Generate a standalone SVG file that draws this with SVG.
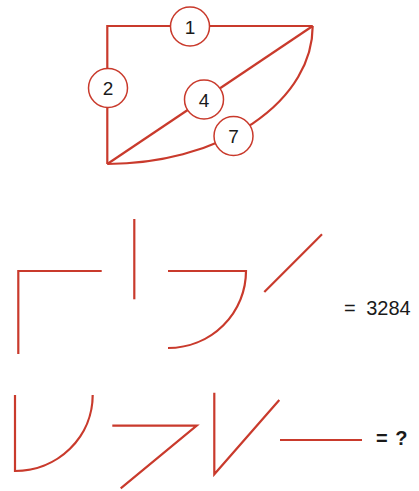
<svg xmlns="http://www.w3.org/2000/svg" width="419" height="491" viewBox="0 0 419 491">
  <style>
    .ln { fill: none; stroke: #c93a2c; stroke-width: 2.2; stroke-linecap: butt; stroke-linejoin: miter; }
    .node circle { fill: #ffffff; stroke: #c93a2c; stroke-width: 1.5; }
    .node text { font-family: "Liberation Sans", Arial, sans-serif; font-size: 19px; fill: #1a1a1a; text-anchor: middle; }
    .eq { font-family: "Liberation Sans", Arial, sans-serif; fill: #1a1a1a; }
  </style>
  <rect width="419" height="491" fill="#ffffff"/>

  <g id="connectors">
    <path class="ln" d="M107.3,164 L107.3,26 L312.7,26"/>
    <path class="ln" d="M107.3,164 L312.7,26"/>
    <path class="ln" d="M312.7,26 A205.4,138 0 0 1 107.3,164"/>
  </g>

  <g id="node-1" class="node">
    <circle cx="190" cy="26.5" r="19.5"/>
    <text x="190" y="33.5">1</text>
  </g>
  <g id="node-2" class="node">
    <circle cx="108" cy="88" r="19.5"/>
    <text x="108" y="95">2</text>
  </g>
  <g id="node-4" class="node">
    <circle cx="204" cy="99.5" r="19.5"/>
    <text x="204" y="106.5">4</text>
  </g>
  <g id="node-7" class="node">
    <circle cx="233.5" cy="136" r="19.5"/>
    <text x="233.5" y="143">7</text>
  </g>

  <g id="row-1">
    <path class="ln" d="M18.3,354 L18.3,271 L101.7,271"/>
    <path class="ln" d="M134.3,219 L134.3,299.3"/>
    <path class="ln" d="M168,271 L246,271 A78,77 0 0 1 168,348"/>
    <path class="ln" d="M264.3,292 L322,234.3"/>
    <text class="eq" x="344" y="315" font-size="20" word-spacing="5">= 3284</text>
  </g>

  <g id="row-2">
    <path class="ln" d="M15,395 L15,471 A77.7,76 0 0 0 92.7,395"/>
    <path class="ln" d="M112.3,425.7 L196.7,425.7 L120.7,488.3"/>
    <path class="ln" d="M214.3,392.7 L214.3,474.3 L279.3,400"/>
    <path class="ln" d="M280,440 L362,440"/>
    <text class="eq" x="376" y="445" font-size="20" font-weight="bold" word-spacing="2">= ?</text>
  </g>
</svg>
